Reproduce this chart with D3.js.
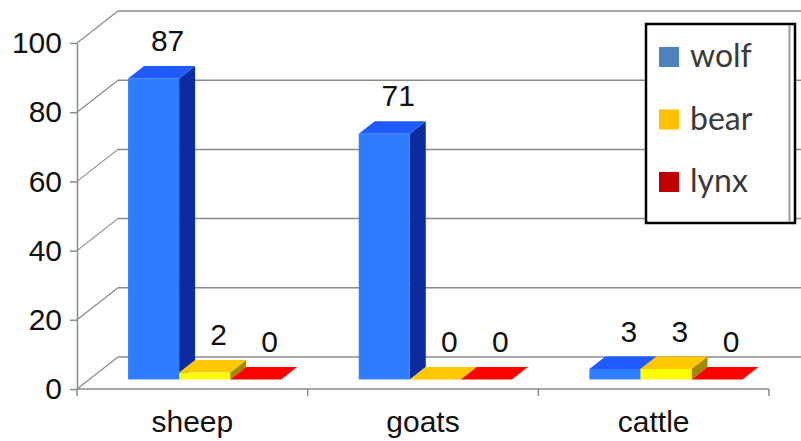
<!DOCTYPE html>
<html>
<head>
<meta charset="utf-8">
<script src="https://cdn.jsdelivr.net/npm/d3@7"></script>
<style>
  html, body { margin: 0; padding: 0; background: #fff; }
  svg { display: block; }
</style>
</head>
<body>
<svg id="chart" width="801" height="441"></svg>
<script>
// Livestock losses by predator
const categories = ["sheep", "goats", "cattle"];
const series = ["wolf", "bear", "lynx"];
const wolf = [87, 71, 3];
const bear = [2, 0, 3];
const lynx = [0, 0, 0];
const yTicks = [0, 20, 40, 60, 80, 100];

const values = { wolf, bear, lynx };

// face colours of each 3D column (front, top, side) and legend swatches
const faceColors = {
  wolf: { front: "#2f7dff", top: "#1f5bff", side: "#0a2c9e" },
  bear: { front: "#ffff00", top: "#ffc800", side: "#a08a00" },
  lynx: { front: "#ff0000", top: "#ff0000", side: "#a00000" }
};
const legendColors = { wolf: "#4f81bd", bear: "#ffc000", lynx: "#c00000" };

const svg = d3.select("#chart");
const font = "Arial, 'Liberation Sans', sans-serif";

// front plane of the plot box
const plotLeft = 77, plotRight = 769, plotBase = 389, plotTop = 43;
// depth of the box (oblique projection)
const depthX = 41, depthY = -32;
// bars sit between these depth fractions
const barFront = 0.3, barBack = 0.69;

const x0 = d3.scaleBand().domain(categories).range([plotLeft, plotRight]).padding(0);
const x1 = d3.scaleBand().domain(series).range([0, x0.bandwidth()])
  .paddingInner(0).paddingOuter(0.76);
const y = d3.scaleLinear().domain([0, 100]).range([plotBase, plotTop]);

const gridColor = "#8a8a8a";

// back wall gridlines and side-wall diagonals
const grid = svg.append("g");
yTicks.forEach(t => {
  const yy = y(t);
  grid.append("line")
    .attr("x1", plotLeft + depthX).attr("x2", 801)
    .attr("y1", yy + depthY).attr("y2", yy + depthY)
    .attr("stroke", gridColor).attr("stroke-width", 1.5);
  grid.append("line")
    .attr("x1", plotLeft).attr("y1", yy)
    .attr("x2", plotLeft + depthX).attr("y2", yy + depthY)
    .attr("stroke", gridColor).attr("stroke-width", 1.2);
});

// baseline along the floor front edge, with category boundary ticks
grid.append("line")
  .attr("x1", plotLeft).attr("x2", plotRight)
  .attr("y1", plotBase).attr("y2", plotBase)
  .attr("stroke", gridColor).attr("stroke-width", 1.5);
const bounds = categories.map(c => x0(c)).concat([plotRight]);
bounds.forEach(bx => {
  grid.append("line")
    .attr("x1", bx).attr("x2", bx)
    .attr("y1", plotBase).attr("y2", plotBase + 7)
    .attr("stroke", gridColor).attr("stroke-width", 1.5);
});

// value axis
const yAxis = d3.axisLeft(y).tickValues(yTicks).tickSize(7).tickSizeOuter(0).tickPadding(8);
const ga = svg.append("g").attr("transform", `translate(${plotLeft},0)`).call(yAxis);
ga.select(".domain").attr("stroke", gridColor).attr("stroke-width", 1.5);
ga.selectAll(".tick line").attr("stroke", gridColor).attr("stroke-width", 1.5);
ga.selectAll(".tick text")
  .attr("font-family", font).attr("font-size", 30).attr("fill", "#111");

// category labels
svg.append("g").selectAll("text").data(categories).join("text")
  .attr("x", d => x0(d) + x0.bandwidth() / 2)
  .attr("y", 432)
  .attr("text-anchor", "middle")
  .attr("font-family", font).attr("font-size", 30).attr("fill", "#111")
  .text(d => d);

// 3D columns, drawn left to right so later columns overlap earlier side faces
const bars = [];
categories.forEach((c, ci) => {
  series.forEach(s => {
    bars.push({ cat: c, ser: s, value: values[s][ci] });
  });
});

const fx = barFront * depthX, fy = barFront * depthY;
const bdx = (barBack - barFront) * depthX, bdy = (barBack - barFront) * depthY;

const barG = svg.append("g");
bars.forEach(b => {
  const xl = x0(b.cat) + x1(b.ser) + fx;
  const xr = xl + x1.bandwidth();
  const yb = y(0) + fy;
  const yt = y(b.value) + fy;
  const col = faceColors[b.ser];
  const g = barG.append("g");
  // side face
  g.append("path")
    .attr("d", `M${xr},${yb}L${xr + bdx},${yb + bdy}L${xr + bdx},${yt + bdy}L${xr},${yt}Z`)
    .attr("fill", col.side);
  // top face
  g.append("path")
    .attr("d", `M${xl},${yt}L${xr},${yt}L${xr + bdx},${yt + bdy}L${xl + bdx},${yt + bdy}Z`)
    .attr("fill", col.top);
  // front face
  if (yb - yt > 0) {
    g.append("rect")
      .attr("x", xl).attr("y", yt)
      .attr("width", xr - xl).attr("height", yb - yt)
      .attr("fill", col.front);
  }
  // value label
  g.append("text")
    .attr("x", (xl + xr) / 2 + 14)
    .attr("y", yt + bdy - 15)
    .attr("text-anchor", "middle")
    .attr("font-family", font).attr("font-size", 30).attr("fill", "#111")
    .text(b.value);
});

// legend
const lg = svg.append("g");
lg.append("rect")
  .attr("x", 646).attr("y", 24).attr("width", 149).attr("height", 199)
  .attr("fill", "#fff").attr("stroke", "#000").attr("stroke-width", 2.5);
lg.append("line")
  .attr("x1", 789.5).attr("x2", 789.5).attr("y1", 25).attr("y2", 222)
  .attr("stroke", "#9a9a9a").attr("stroke-width", 2);
series.forEach((s, i) => {
  const by = 67 + i * 62.5;
  lg.append("rect")
    .attr("x", 659).attr("y", by - 20).attr("width", 20).attr("height", 20)
    .attr("fill", legendColors[s]);
  lg.append("text")
    .attr("x", 690).attr("y", by)
    .attr("font-family", "Lato, 'Open Sans', sans-serif").attr("font-size", 32)
    .attr("fill", "#3a3a3a")
    .text(s);
});
</script>
</body>
</html>
